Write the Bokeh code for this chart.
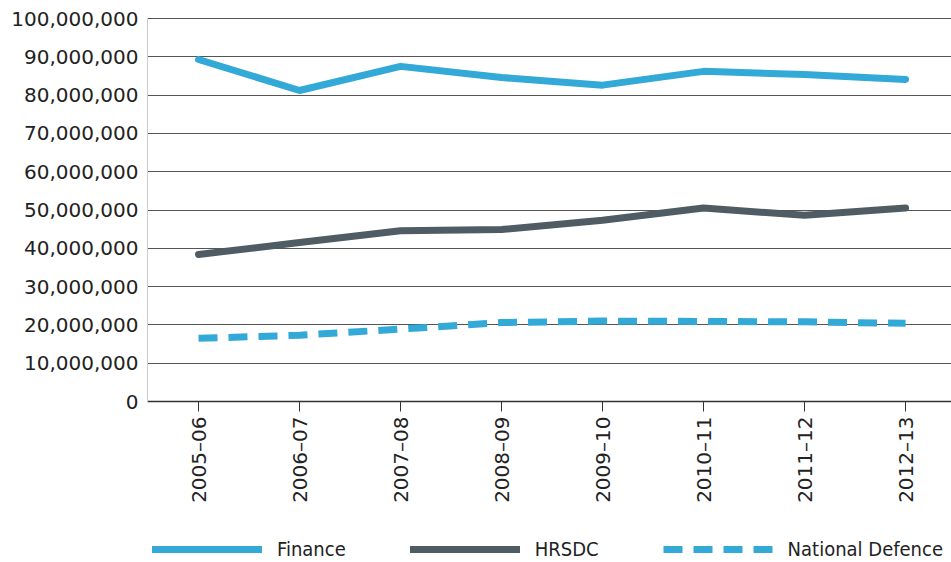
from bokeh.plotting import figure
from bokeh.models import Range1d, FixedTicker, NumeralTickFormatter, Legend, LegendItem
from bokeh.embed import file_html
from bokeh.resources import INLINE
import math

years = ["2005–06", "2006–07", "2007–08", "2008–09", "2009–10", "2010–11", "2011–12", "2012–13"]
finance = [89.3e6, 81.2e6, 87.5e6, 84.6e6, 82.6e6, 86.2e6, 85.4e6, 84.1e6]
hrsdc = [38.4e6, 41.5e6, 44.6e6, 44.9e6, 47.3e6, 50.5e6, 48.6e6, 50.5e6]
defence = [16.5e6, 17.3e6, 18.9e6, 20.6e6, 21.0e6, 20.9e6, 20.8e6, 20.4e6]
y_ticks = [i * 10_000_000 for i in range(11)]

BLUE = "#33a9d8"
GREY = "#505c64"
FONT = "DejaVu Sans"

xs = list(range(len(years)))

W, H, TOP, LEFT = 951, 562, 16, 147
AXIS_PX = 383  # pixels from 0 to 100,000,000
y_end = 100e6 + 2 / AXIS_PX * 100e6
y_start = y_end - (H - TOP) / AXIS_PX * 100e6

p = figure(width=W, height=H, output_backend="svg", toolbar_location=None,
           x_range=Range1d(-0.505, 7.455), y_range=Range1d(y_start, y_end),
           min_border_left=LEFT, min_border_right=0, min_border_top=TOP, min_border_bottom=0)
p.outline_line_color = None
p.background_fill_color = "white"
p.border_fill_color = "white"

r1 = p.line(xs, finance, line_color=BLUE, line_width=7, line_cap="round", line_join="round")
r2 = p.line(xs, hrsdc, line_color=GREY, line_width=7, line_cap="round", line_join="round")
r3 = p.line(xs, defence, line_color=BLUE, line_width=7, line_dash="19 11", line_join="round")

p.xgrid.grid_line_color = None
p.ygrid.grid_line_color = "#555555"
p.ygrid.grid_line_width = 1
p.ygrid.ticker = FixedTicker(ticks=y_ticks)

p.yaxis.ticker = FixedTicker(ticks=y_ticks)
p.yaxis.bounds = (0, 100e6)
p.yaxis.formatter = NumeralTickFormatter(format="0,0")
p.yaxis.axis_line_color = "#cccccc"
p.yaxis.major_tick_line_color = None
p.yaxis.major_tick_in = 0
p.yaxis.major_tick_out = 0
p.yaxis.minor_tick_line_color = None
p.yaxis.minor_tick_out = 0
p.yaxis.major_label_standoff = 9
p.yaxis.major_label_text_font = FONT
p.yaxis.major_label_text_font_size = "20px"
p.yaxis.major_label_text_color = "#222222"

p.xaxis.fixed_location = 0
p.xaxis.ticker = FixedTicker(ticks=xs)
p.xaxis.major_label_overrides = {i: y for i, y in enumerate(years)}
p.xaxis.major_label_orientation = math.pi / 2
p.xaxis.axis_line_color = "#333333"
p.xaxis.axis_line_width = 1.5
p.xaxis.major_tick_line_color = "#333333"
p.xaxis.major_tick_in = 0
p.xaxis.major_tick_out = 10
p.xaxis.minor_tick_line_color = None
p.xaxis.minor_tick_out = 0
p.xaxis.major_label_standoff = 5
p.xaxis.major_label_text_font = FONT
p.xaxis.major_label_text_font_size = "20px"
p.xaxis.major_label_text_color = "#222222"

legend = Legend(items=[LegendItem(label="Finance", renderers=[r1]),
                       LegendItem(label="HRSDC", renderers=[r2]),
                       LegendItem(label="National Defence", renderers=[r3])],
                orientation="horizontal", location=(5, 1),
                glyph_width=110, glyph_height=20, label_standoff=15, spacing=64,
                padding=0, margin=0, border_line_color=None, background_fill_alpha=0,
                label_text_font="DejaVu Sans Condensed", label_text_font_size="20px",
                label_text_color="#222222")
p.add_layout(legend, "center")

open("out.html", "w").write(file_html(p, INLINE))
